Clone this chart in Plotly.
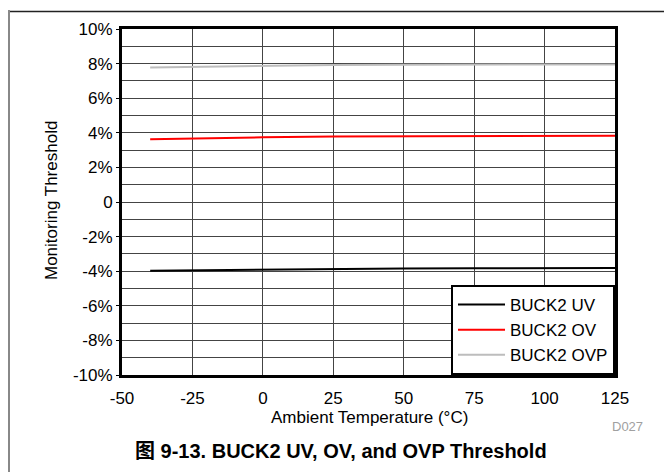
import plotly.graph_objects as go

# Datos
temperatura = [-40, -25, 0, 25, 50, 75, 100, 125]
buck2_uv = [-3.98, -3.95, -3.90, -3.86, -3.84, -3.83, -3.82, -3.81]
buck2_ov = [3.63, 3.68, 3.74, 3.79, 3.81, 3.82, 3.83, 3.83]
buck2_ovp = [7.78, 7.82, 7.87, 7.92, 7.94, 7.95, 7.95, 7.95]

y_ticks = [-10, -8, -6, -4, -2, 0, 2, 4, 6, 8, 10]
y_labels = ['-10%', '-8%', '-6%', '-4%', '-2%', '0', '2%', '4%', '6%', '8%', '10%']
x_ticks = [-50, -25, 0, 25, 50, 75, 100, 125]
x_labels = ['-50', '-25', '0', '25', '50', '75', '100', '125']

fuente = 'Liberation Sans, Arial, sans-serif'

# La página tiene 8 px de margen; se trabaja con píxeles de pantalla
OFF = 8
W, H = 672 - OFF, 472 - OFF
L, R, T, B = 122 - OFF, 615 - OFF, 27 - OFF, 375 - OFF
def px_x(px):
    return (px - OFF - L) / (R - L)
def px_y(py):
    return (B - (py - OFF)) / (B - T)

fig = go.Figure()
fig.add_trace(go.Scatter(x=temperatura, y=buck2_uv, mode='lines', name='BUCK2 UV',
                         line=dict(color='black', width=2)))
fig.add_trace(go.Scatter(x=temperatura, y=buck2_ov, mode='lines', name='BUCK2 OV',
                         line=dict(color='#ff0000', width=2)))
fig.add_trace(go.Scatter(x=temperatura, y=buck2_ovp, mode='lines', name='BUCK2 OVP',
                         line=dict(color='#bdbdbd', width=2)))

fig.update_layout(
    width=W, height=H,
    margin=dict(l=L, r=W - R, t=T, b=H - B),
    paper_bgcolor='white', plot_bgcolor='white',
    font=dict(family=fuente, size=17, color='black'),
    showlegend=True,
    legend=dict(x=1, y=0, xanchor='right', yanchor='bottom',
                bordercolor='black', borderwidth=2, bgcolor='white',
                font=dict(size=17), tracegroupgap=0, itemwidth=47),
)

fig.update_xaxes(
    range=[-50, 125], tickvals=x_ticks, ticktext=x_labels,
    showgrid=True, gridcolor='#444', gridwidth=1,
    showline=True, mirror=True, linecolor='black', linewidth=3,
    zeroline=False, ticks='', tickfont=dict(size=17), ticklabelstandoff=6,
)
fig.update_yaxes(
    range=[-10, 10], tickvals=y_ticks, ticktext=y_labels,
    showgrid=True, gridcolor='#444', gridwidth=1,
    minor=dict(tickvals=[-9, -7, -5, -3, -1, 1, 3, 5, 7, 9], showgrid=True,
               gridcolor='#444', gridwidth=1),
    showline=True, mirror=True, linecolor='black', linewidth=3,
    zeroline=False, ticks='outside', ticklen=3, tickcolor='black',
    tickfont=dict(size=17),
)

# Textos
def texto(t, x, y, **kw):
    fig.add_annotation(text=t, x=px_x(x), y=px_y(y), xref='paper', yref='paper',
                       xanchor='center', yanchor='middle', showarrow=False, **kw)

texto('Monitoring Threshold', 51, 200, textangle=-90, font=dict(size=17))
texto('Ambient Temperature (°C)', 369, 418, font=dict(size=17))
texto('D027', 627, 427, font=dict(size=13, color='#a0a0a0'))
texto('<b>图 9-13. BUCK2 UV, OV, and OVP Threshold</b>', 341, 451,
      font=dict(size=20, family='Liberation Sans, Arial, Noto Sans CJK SC'))

# Marco de la página
fig.add_shape(type='line', xref='paper', yref='paper',
              x0=px_x(OFF), x1=px_x(680), y0=px_y(9.5), y1=px_y(9.5),
              line=dict(color='#222', width=1.5))
fig.add_shape(type='line', xref='paper', yref='paper',
              x0=px_x(9), x1=px_x(9), y0=px_y(OFF), y1=px_y(480),
              line=dict(color='#888', width=2))

fig.write_html("out.html")
